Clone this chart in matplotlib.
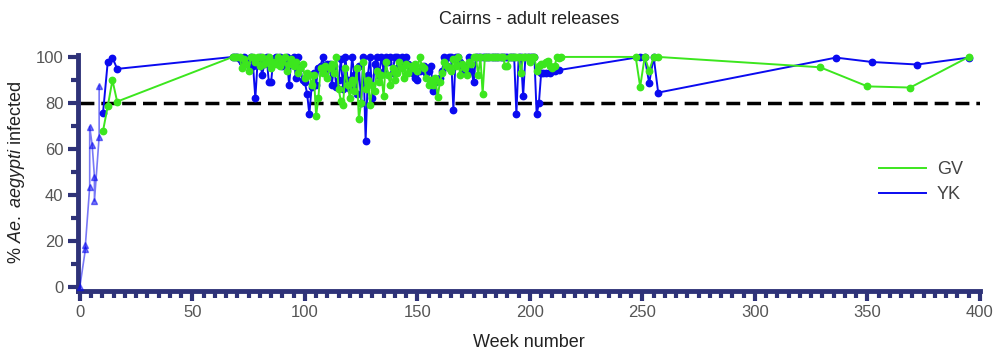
import matplotlib
matplotlib.use("Agg")
import matplotlib.pyplot as plt
from matplotlib.ticker import MultipleLocator

plt.rcParams['font.family'] = ['Liberation Sans', 'DejaVu Sans']
plt.rcParams['mathtext.fontset'] = 'custom'
plt.rcParams['mathtext.it'] = 'Liberation Sans:italic'
plt.rcParams['mathtext.rm'] = 'Liberation Sans'

# early pilot collections (triangles)
pilot_weeks = [0, 2.5, 2.5, 4.4, 4.4, 5.5, 6.5, 6.5, 8.6, 8.6]
pilot_vals = [0, 16.5, 18.5, 43.6, 69.7, 61.7, 48, 37.4, 65.4, 87.4]

# YK site
yk_weeks = [10.3, 12.4, 14.5, 16.6,
            68, 69, 70, 71, 72, 73, 74, 75, 76, 77, 78, 79, 80, 81, 82, 83, 84, 85, 86, 87,
            88, 89, 90, 91, 92, 93, 94, 95, 96, 97, 98, 99, 100, 101, 102, 103, 104, 105, 106, 107,
            108, 109, 110, 111, 112, 113, 114, 115, 116, 117, 118, 119, 120, 121, 122, 123, 124, 125,
            126, 127, 128, 129, 130, 131, 132, 133, 134, 135, 136, 137, 138, 139, 140, 141, 142, 143,
            144, 145, 146, 147, 148, 149, 150, 151, 152, 153, 154, 155, 156, 157, 158, 159, 160, 161,
            162, 163, 164, 165, 166, 167, 168, 169, 170, 171, 172, 173, 174, 175, 176, 177, 178, 179,
            180, 181, 182, 183, 184, 185, 186, 187, 188, 189, 190, 191, 192, 193, 194, 195, 196, 197,
            198, 199, 200, 201, 202, 203, 204, 205, 206, 207, 209, 211, 213,
            249, 251, 253, 255, 257, 336, 352, 372, 395]
yk_vals = [75.5, 97.7, 99.7, 94.8,
           100, 100, 100, 99, 98, 100, 97, 99, 100, 96, 82, 98, 100, 92, 97, 100, 89, 89, 99, 100,
           98, 100, 96, 99, 100, 88, 99, 100, 91, 100, 95, 90, 89, 84, 75, 87, 93, 88, 95, 96,
           100, 93, 97, 97, 88, 96, 87, 90, 99, 86, 100, 90, 86, 100, 92, 84, 96, 80,
           100, 63.5, 92, 100, 82, 97, 100, 92, 100, 94, 100, 98, 100, 93, 100, 100, 96, 100,
           98, 100, 97, 95, 93, 91, 90, 94, 95, 96, 93, 94, 96, 85, 89, 90, 91, 94,
           100, 96, 100, 100, 77, 100, 100, 98, 95, 94, 96, 100, 94, 89, 100, 100, 100, 100,
           100, 100, 100, 100, 100, 100, 100, 100, 100, 100, 100, 100, 100, 100, 75, 100, 100, 83,
           100, 100, 100, 100, 100, 75, 80, 93, 93, 93, 93, 94, 94.3,
           100, 100, 88.6, 100, 84.5, 99.7, 97.8, 96.7, 99.7]

# GV site
gv_weeks = [10.3, 12.4, 14.5, 16.6,
            68, 69, 70, 71, 72, 73, 74, 75, 76, 77, 78, 79, 80, 81, 82, 83, 84, 85, 86, 87,
            88, 89, 90, 91, 92, 93, 94, 95, 96, 97, 98, 99, 100, 101, 102, 103, 104, 105, 106, 107,
            108, 109, 110, 111, 112, 113, 114, 115, 116, 117, 118, 119, 120, 121, 122, 123, 124, 125,
            126, 127, 128, 129, 130, 131, 132, 133, 134, 135, 136, 137, 138, 139, 140, 141, 142, 143,
            144, 145, 146, 147, 148, 149, 150, 151, 152, 153, 154, 155, 156, 157, 158, 159, 160, 161,
            162, 163, 164, 165, 166, 167, 168, 169, 170, 171, 172, 173, 174, 175, 176, 177, 178, 179,
            180, 181, 182, 183, 184, 185, 186, 187, 188, 189, 190, 191, 192, 193, 194, 195, 196, 197,
            198, 199, 200, 201, 202, 203, 204, 205, 206, 207, 208, 209, 210, 211, 212, 213, 214,
            247, 249, 251, 253, 255, 257, 329, 350, 369, 395]
gv_vals = [67.8, 78.5, 89.9, 80.6,
           100, 100, 100, 100, 95, 99, 97, 94, 100, 100, 98, 100, 96, 100, 97, 98, 100, 95, 98, 97,
           100, 96, 98, 100, 94, 97, 99, 96, 98, 93, 95, 97, 91, 93, 92, 88, 92, 74.5, 82, 95,
           93, 96, 91, 95, 97, 93, 100, 86, 81, 79, 95, 88, 82, 90, 85, 95, 73, 80,
           98, 86, 90, 79, 88, 85, 94, 89, 92, 83, 98, 92, 88, 95, 90, 93, 98, 95,
           91, 97, 93, 96, 95, 97, 94, 100, 96, 95, 91, 88, 90, 88, 91, 82.5, 89, 93,
           98, 96, 95, 94, 99, 96, 100, 92, 97, 95, 92, 98, 97, 100, 100, 92, 100, 84,
           100, 100, 100, 100, 100, 100, 100, 100, 100, 96, 96, 100, 100, 100, 100, 100, 93, 100,
           100, 100, 98, 100, 100, 94, 96, 97, 97, 98, 98.3, 96, 95, 96, 100, 99.7, 100,
           100, 87, 100, 94, 100, 100, 95.5, 87.2, 86.7, 100]

threshold = 80

blue = '#0a0af0'
green = '#3ce61e'
navy = '#2e3278'

fig = plt.figure(figsize=(10, 3.57), dpi=100)
ax = fig.add_axes([0.078, 0.186, 0.902, 0.661])

ax.plot([0, 400], [threshold, threshold], color='black', lw=2.5, ls=(0, (4, 2)), zorder=1)
ax.plot(pilot_weeks, pilot_vals, color=blue, alpha=0.55, lw=1.2, marker='^', ms=5,
        mfc=blue, mec=blue, zorder=3, clip_on=False)
ax.plot(yk_weeks, yk_vals, color=blue, lw=1.4, marker='o', ms=4.6, zorder=3, clip_on=False)
ax.plot(gv_weeks, gv_vals, color=green, lw=1.4, marker='o', ms=4.6, zorder=4, clip_on=False)

# legend with plain lines
lg_gv, = ax.plot([], [], color=green, lw=1.4, label='GV')
lg_yk, = ax.plot([], [], color=blue, lw=1.4, label='YK')
leg = ax.legend(handles=[lg_gv, lg_yk], loc='center left', bbox_to_anchor=(0.87, 0.46),
                frameon=False, fontsize=13, handlelength=2.6, handletextpad=0.6,
                labelspacing=0.45)
for t in leg.get_texts():
    t.set_color('#444444')

ax.set_xlim(-0.8, 400)
ax.set_ylim(-1.5, 101)
ax.xaxis.set_major_locator(MultipleLocator(50))
ax.xaxis.set_minor_locator(MultipleLocator(5))
ax.yaxis.set_major_locator(MultipleLocator(20))
ax.yaxis.set_minor_locator(MultipleLocator(10))

for s in ['top', 'right']:
    ax.spines[s].set_visible(False)
for s in ['left', 'bottom']:
    ax.spines[s].set_color(navy)
    ax.spines[s].set_linewidth(3.5)

ax.tick_params(which='major', length=7, width=3, color=navy, labelsize=12,
               labelcolor='#555555')
ax.tick_params(which='minor', length=5, width=3, color=navy)

ax.set_title('Cairns - adult releases', fontsize=13, color='#222222', pad=22)
ax.set_xlabel('Week number', fontsize=13, color='#222222', labelpad=10)
ax.set_ylabel(r'% $\mathit{Ae.\ aegypti}$ infected', fontsize=13, color='#222222', labelpad=6)

fig.savefig('out.png', dpi=100)
